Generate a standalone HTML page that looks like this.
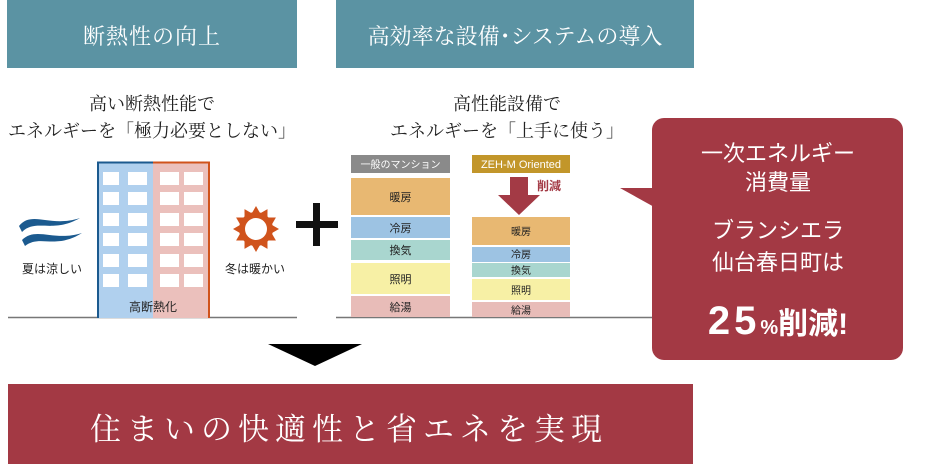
<!DOCTYPE html>
<html><head><meta charset="utf-8"><style>
html,body{margin:0;padding:0;background:#fff;}
svg{display:block;}
.serif{font-family:"Liberation Serif","Noto Serif CJK SC",serif;}
.sans{font-family:"Liberation Sans","Noto Sans CJK JP",sans-serif;}
</style></head><body>
<svg width="944" height="464" viewBox="0 0 944 464" xmlns="http://www.w3.org/2000/svg">
<rect x="7" y="0" width="290" height="68" fill="#5b93a3"/>
<rect x="336" y="0" width="358" height="68" fill="#5b93a3"/>
<text x="152" y="44" text-anchor="middle" class="serif" font-size="22" fill="#fff" letter-spacing="1">断熱性の向上</text>
<text x="515" y="44" text-anchor="middle" class="serif" font-size="22" fill="#fff">高効率な設備･システムの導入</text>
<text x="152" y="110" text-anchor="middle" class="serif" font-size="18" fill="#222">高い断熱性能で</text>
<text x="152" y="137" text-anchor="middle" class="serif" font-size="18" fill="#222">エネルギーを「極力必要としない」</text>
<text x="507" y="110" text-anchor="middle" class="serif" font-size="18" fill="#222">高性能設備で</text>
<text x="507" y="137" text-anchor="middle" class="serif" font-size="18" fill="#222">エネルギーを「上手に使う」</text>

<line x1="8" y1="317.5" x2="297" y2="317.5" stroke="#777" stroke-width="1.5"/>
<line x1="336" y1="317.5" x2="656" y2="317.5" stroke="#777" stroke-width="1.5"/>

<rect x="97" y="162" width="56" height="156" fill="#b0d0ee"/>
<rect x="153" y="162" width="57" height="156" fill="#ebc0bc"/>
<path d="M98 318 V162.5 H153" fill="none" stroke="#1b5a8f" stroke-width="2"/>
<path d="M153 162.5 H209 V318" fill="none" stroke="#d0531c" stroke-width="2"/>
<g fill="#fff">
<rect x="103" y="172" width="16" height="13"/><rect x="128" y="172" width="19" height="13"/><rect x="160" y="172" width="19" height="13"/><rect x="184" y="172" width="19" height="13"/>
<rect x="103" y="192" width="16" height="13"/><rect x="128" y="192" width="19" height="13"/><rect x="160" y="192" width="19" height="13"/><rect x="184" y="192" width="19" height="13"/>
<rect x="103" y="213" width="16" height="13"/><rect x="128" y="213" width="19" height="13"/><rect x="160" y="213" width="19" height="13"/><rect x="184" y="213" width="19" height="13"/>
<rect x="103" y="233" width="16" height="13"/><rect x="128" y="233" width="19" height="13"/><rect x="160" y="233" width="19" height="13"/><rect x="184" y="233" width="19" height="13"/>
<rect x="103" y="254" width="16" height="13"/><rect x="128" y="254" width="19" height="13"/><rect x="160" y="254" width="19" height="13"/><rect x="184" y="254" width="19" height="13"/>
<rect x="103" y="274" width="16" height="13"/><rect x="128" y="274" width="19" height="13"/><rect x="160" y="274" width="19" height="13"/><rect x="184" y="274" width="19" height="13"/>
</g>
<text x="153" y="311" text-anchor="middle" class="sans" font-size="12" fill="#222">高断熱化</text>

<path d="M19 226 C32 210 50 228 80 218 C52 234 36 218 22 232 Z" fill="#1b5a8f"/>
<path d="M22 240 C36 226 54 242 82 233 C55 250 40 234 25 246 Z" fill="#1b5a8f"/>
<text x="52" y="273" text-anchor="middle" class="sans" font-size="12" fill="#222">夏は涼しい</text>

<g transform="translate(256,229)" fill="#d0531c">
<circle r="17"/>
<circle r="11" fill="#fff"/>
<g>
<polygon points="-4,-16 4,-16 0,-23"/>
<polygon points="-4,-16 4,-16 0,-23" transform="rotate(30)"/>
<polygon points="-4,-16 4,-16 0,-23" transform="rotate(60)"/>
<polygon points="-4,-16 4,-16 0,-23" transform="rotate(90)"/>
<polygon points="-4,-16 4,-16 0,-23" transform="rotate(120)"/>
<polygon points="-4,-16 4,-16 0,-23" transform="rotate(150)"/>
<polygon points="-4,-16 4,-16 0,-23" transform="rotate(180)"/>
<polygon points="-4,-16 4,-16 0,-23" transform="rotate(210)"/>
<polygon points="-4,-16 4,-16 0,-23" transform="rotate(240)"/>
<polygon points="-4,-16 4,-16 0,-23" transform="rotate(270)"/>
<polygon points="-4,-16 4,-16 0,-23" transform="rotate(300)"/>
<polygon points="-4,-16 4,-16 0,-23" transform="rotate(330)"/>
</g>
</g>
<text x="255" y="273" text-anchor="middle" class="sans" font-size="12" fill="#222">冬は暖かい</text>

<rect x="296" y="221" width="42" height="7" fill="#111"/>
<rect x="313" y="203" width="7" height="43" fill="#111"/>

<rect x="351" y="155" width="99" height="18" fill="#8a8a8a"/>
<text x="400.5" y="168" text-anchor="middle" class="sans" font-size="10" fill="#fff">一般のマンション</text>
<rect x="351" y="178" width="99" height="37" fill="#e8b872"/>
<rect x="351" y="217" width="99" height="21" fill="#9dc3e3"/>
<rect x="351" y="240" width="99" height="20" fill="#a9d6cf"/>
<rect x="351" y="263" width="99" height="31" fill="#f7f0a5"/>
<rect x="351" y="296" width="99" height="21" fill="#e8bcb8"/>
<g class="sans" font-size="11" fill="#222" text-anchor="middle">
<text x="400.5" y="201">暖房</text>
<text x="400.5" y="232">冷房</text>
<text x="400.5" y="254">換気</text>
<text x="400.5" y="283">照明</text>
<text x="400.5" y="311">給湯</text>
</g>
<rect x="472" y="155" width="98" height="18" fill="#c2962a"/>
<text x="521" y="168" text-anchor="middle" class="sans" font-size="11" fill="#fff">ZEH-M Oriented</text>
<polygon points="510,177 528,177 528,195 540,195 519,215 498,195 510,195" fill="#a33a45"/>
<text x="537" y="190" class="sans" font-size="12" font-weight="bold" fill="#a33a45">削減</text>
<rect x="472" y="217" width="98" height="28" fill="#e8b872"/>
<rect x="472" y="247" width="98" height="15" fill="#9dc3e3"/>
<rect x="472" y="263" width="98" height="14" fill="#a9d6cf"/>
<rect x="472" y="279" width="98" height="21" fill="#f7f0a5"/>
<rect x="472" y="302" width="98" height="15" fill="#e8bcb8"/>
<g class="sans" font-size="10" fill="#222" text-anchor="middle">
<text x="521" y="235">暖房</text>
<text x="521" y="258">冷房</text>
<text x="521" y="274">換気</text>
<text x="521" y="294">照明</text>
<text x="521" y="314">給湯</text>
</g>

<rect x="652" y="118" width="251" height="242" rx="12" fill="#a33944"/>
<polygon points="620,188 656,188 656,208" fill="#a33944"/>
<g class="sans" fill="#fff" text-anchor="middle">
<text x="778" y="161" font-size="22">一次エネルギー</text>
<text x="778" y="190" font-size="22">消費量</text>
<text x="778" y="238" font-size="22">ブランシエラ</text>
<text x="778" y="270" font-size="22">仙台春日町は</text>
<text x="778" y="334" font-weight="bold"><tspan font-size="40" letter-spacing="4">25</tspan><tspan font-size="20">%</tspan><tspan font-size="30">削減!</tspan></text>
</g>

<polygon points="268,344 362,344 315,366" fill="#000"/>

<rect x="8" y="384" width="685" height="80" fill="#a33944"/>
<text x="349" y="440" text-anchor="middle" class="serif" font-size="31" fill="#fff" letter-spacing="6">住まいの快適性と省エネを実現</text>
</svg>
</body></html>
